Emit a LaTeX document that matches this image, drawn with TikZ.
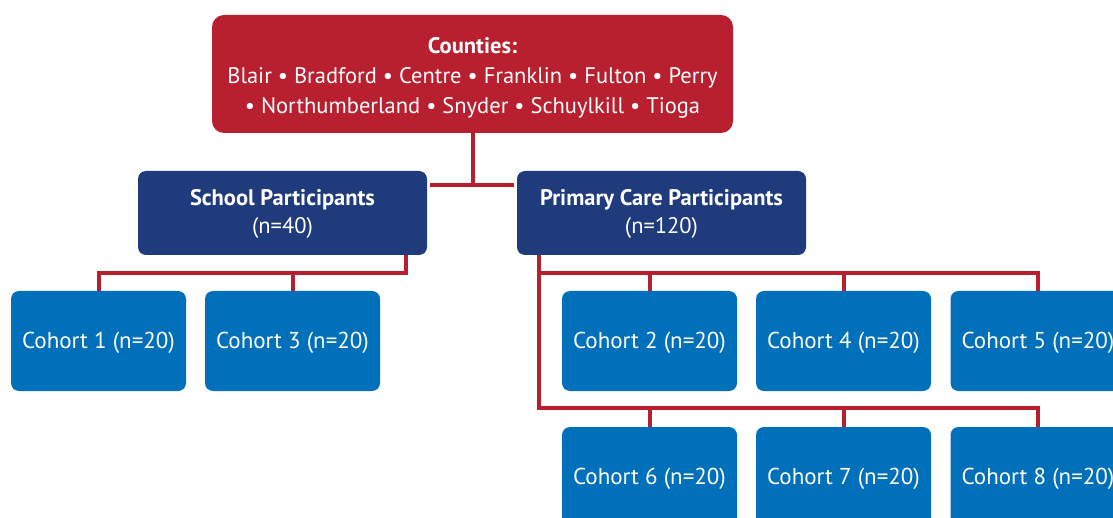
\documentclass[tikz,border=0pt]{standalone}
\usepackage{fontspec}
\setmainfont{PT Sans}
\definecolor{countyred}{HTML}{B81F2F}
\definecolor{groupnavy}{HTML}{1F3B7B}
\definecolor{cohortblue}{HTML}{0070BA}

\begin{document}
\begin{tikzpicture}[x=1pt,y=-1pt,
  box/.style={rounded corners=8pt, text=white, align=center, inner sep=0pt},
  countybox/.style={box, fill=countyred, rounded corners=12pt,
                    minimum width=521pt, minimum height=118pt,
                    font=\fontsize{22.5}{30}\selectfont},
  groupbox/.style={box, fill=groupnavy, minimum width=289pt, minimum height=84pt,
                   font=\fontsize{22.5}{28}\selectfont},
  cohortbox/.style={box, fill=cohortblue, minimum width=175pt, minimum height=100pt,
                    font=\fontsize{23}{28}\selectfont, text height=20pt, text depth=5pt},
  conn/.style={draw=countyred, line width=4pt, line join=miter}]
\useasboundingbox (0,0) rectangle (1113,518);

% top level
\node[countybox] (counties) at (472.5,74)
  {\rule{0pt}{23pt}\textbf{Counties:}\\
   Blair • Bradford • Centre • Franklin • Fulton • Perry\\
   • Northumberland • Snyder • Schuylkill • Tioga};

% participant groups
\node[groupbox] (school)  at (282.5,213)
  {\rule{0pt}{18pt}\textbf{School Participants}\\(n=40)};
\node[groupbox] (primary) at (661.5,213)
  {\rule{0pt}{18pt}\textbf{Primary Care Participants}\\(n=120)};

% cohorts
\node[cohortbox] (c1) at (98.5,341)  {Cohort 1 (n=20)};
\node[cohortbox] (c3) at (292.5,341) {Cohort 3 (n=20)};
\node[cohortbox] (c2) at (649.5,341) {Cohort 2 (n=20)};
\node[cohortbox] (c4) at (843.5,341) {Cohort 4 (n=20)};
\node[cohortbox] (c5) at (1038,341)  {Cohort 5 (n=20)};
\node[cohortbox] (c6) at (649.5,477) {Cohort 6 (n=20)};
\node[cohortbox] (c7) at (843.5,477) {Cohort 7 (n=20)};
\node[cohortbox] (c8) at (1038,477)  {Cohort 8 (n=20)};

% junction points
\coordinate (top) at (472.5,185);
\coordinate (sbar) at (406,273);
\coordinate (pbar1) at (539,273);
\coordinate (pbar2) at (539,408);

% counties to groups
\draw[conn] (counties.south) -- (top);
\draw[conn, shorten <=3pt, shorten >=3pt] (school.east |- top) -- (primary.west |- top);

% school branch
\draw[conn] (school.south -| sbar) -- (sbar) -| (c1.north);
\draw[conn] (c3.north) -- (c3.north |- sbar);

% primary care branch
\draw[conn] (primary.south -| pbar1) -- (pbar2) -| (c8.north);
\draw[conn] (pbar1) -| (c5.north);
\draw[conn] (c2.north) -- (c2.north |- pbar1);
\draw[conn] (c4.north) -- (c4.north |- pbar1);
\draw[conn] (c6.north) -- (c6.north |- pbar2);
\draw[conn] (c7.north) -- (c7.north |- pbar2);
\end{tikzpicture}
\end{document}
